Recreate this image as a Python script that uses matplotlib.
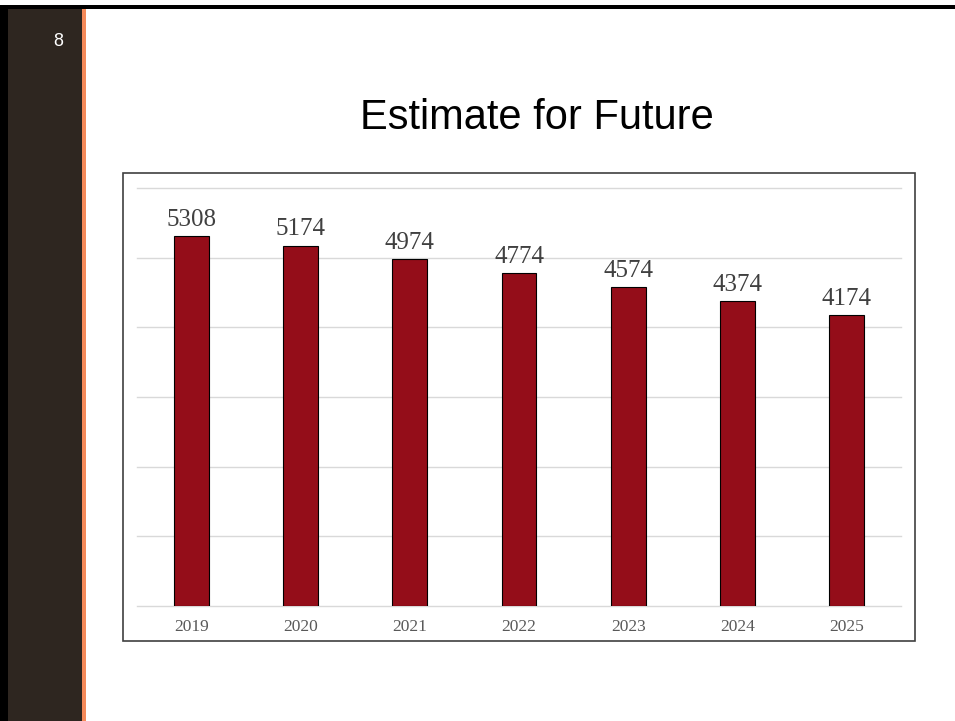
import matplotlib.pyplot as plt
from matplotlib.patches import Rectangle

years = ['2019', '2020', '2021', '2022', '2023', '2024', '2025']
values = [5308, 5174, 4974, 4774, 4574, 4374, 4174]

W, H = 955, 721
fig = plt.figure(figsize=(W / 100, H / 100), dpi=100)

# slide background: black border, dark sidebar, orange stripe
fig.patches.append(Rectangle((0, 0), 8 / W, 1 - 7 / H, transform=fig.transFigure,
                             facecolor='black', edgecolor='none', zorder=-2))
fig.patches.append(Rectangle((0, 1 - 9 / H), 1, 4 / H, transform=fig.transFigure,
                             facecolor='black', edgecolor='none', zorder=-2))
fig.patches.append(Rectangle((8 / W, 0), 74 / W, 1 - 9 / H, transform=fig.transFigure,
                             facecolor='#2E2620', edgecolor='none', zorder=-2))
fig.patches.append(Rectangle((82 / W, 0), 4 / W, 1 - 9 / H, transform=fig.transFigure,
                             facecolor='#F58A5A', edgecolor='none', zorder=-2))
fig.text(58 / W, 1 - 42 / H, '8', color='white', fontsize=13,
         family='Liberation Sans', ha='center', va='center')

fig.text(537 / W, 1 - 118 / H, 'Estimate for Future', fontsize=30,
         family='Liberation Sans', ha='center', va='center', color='black')

# chart frame
fig.patches.append(Rectangle((123 / W, 1 - 641 / H), (915 - 123) / W, (641 - 173) / H,
                             transform=fig.transFigure, facecolor='white',
                             edgecolor='#404040', linewidth=1.2, zorder=-1))

ax = fig.add_axes([137 / W, 1 - 606 / H, (901 - 137) / W, (606 - 188) / H])
ax.set_zorder(1)
ax.set_facecolor('none')
x = range(len(years))
bars = ax.bar(x, values, width=0.32, color='#940D19', edgecolor='black', linewidth=0.8, zorder=3)
for xi, v in zip(x, values):
    ax.text(xi, v + 80, str(v), ha='center', va='bottom', fontsize=18,
            family='Liberation Serif', color='#404040')

ax.set_xlim(-0.5, len(years) - 0.5)
ax.set_ylim(0, 6000)
ax.set_yticks(range(0, 6001, 1000))
ax.yaxis.grid(True, color='#D9D9D9', linewidth=1)
for gl in ax.get_ygridlines():
    gl.set_clip_on(False)
ax.set_axisbelow(True)
ax.tick_params(axis='y', left=False, labelleft=False)
ax.tick_params(axis='x', bottom=False, pad=6)
ax.set_xticks(list(x))
ax.set_xticklabels(years, fontsize=12.5, family='Liberation Serif', color='#595959')
for s in ax.spines.values():
    s.set_visible(False)

plt.savefig('out.png', dpi=100)
